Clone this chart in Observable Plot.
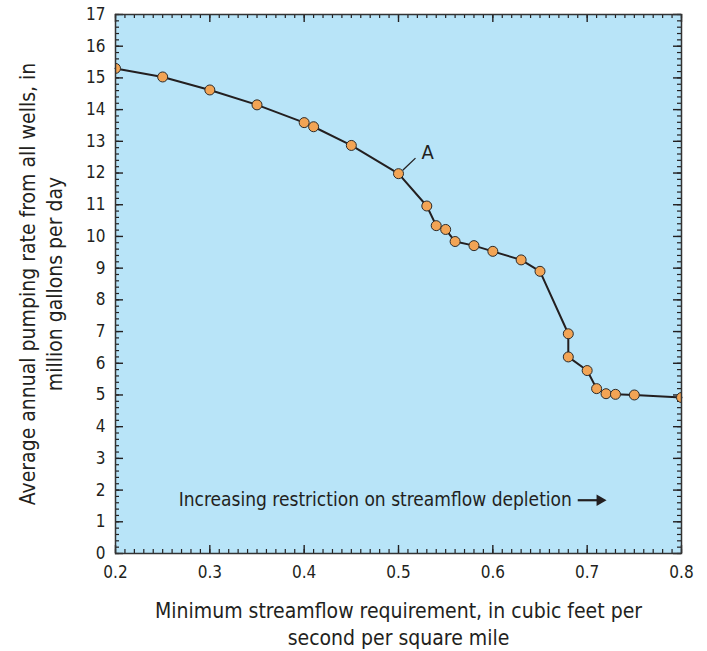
<!DOCTYPE html>
<html>
<head>
<meta charset="utf-8">
<script src="https://cdn.jsdelivr.net/npm/d3@7"></script>
<script src="https://cdn.jsdelivr.net/npm/@observablehq/plot@0.6"></script>
<style>
  html, body { margin: 0; padding: 0; background: #ffffff; }
  #chart svg { display: block; }
</style>
</head>
<body>
<div id="chart"></div>
<script>
// Data
const streamflowReq = [0.2, 0.25, 0.3, 0.35, 0.4, 0.41, 0.45, 0.5, 0.53, 0.54, 0.55, 0.56, 0.58, 0.6, 0.63, 0.65, 0.68, 0.68, 0.7, 0.71, 0.72, 0.73, 0.75, 0.8];
const pumpingRate   = [15.3, 15.03, 14.62, 14.15, 13.59, 13.46, 12.87, 11.98, 10.96, 10.34, 10.22, 9.84, 9.71, 9.53, 9.26, 8.9, 6.93, 6.2, 5.77, 5.2, 5.04, 5.02, 5.0, 4.92];

const xTickValues = [0.2, 0.3, 0.4, 0.5, 0.6, 0.7, 0.8];
const xTickLabels = ["0.2", "0.3", "0.4", "0.5", "0.6", "0.7", "0.8"];
const yTickValues = [0, 1, 2, 3, 4, 5, 6, 7, 8, 9, 10, 11, 12, 13, 14, 15, 16, 17];
const yTickLabels = ["0", "1", "2", "3", "4", "5", "6", "7", "8", "9", "10", "11", "12", "13", "14", "15", "16", "17"];

const xTitle = "Minimum streamflow requirement, in cubic feet per\nsecond per square mile";
const yTitle = "Average annual pumping rate from all wells, in\nmillion gallons per day";
const noteText = "Increasing restriction on streamflow depletion";
const noteAnchor = [{x: 0.267, y: 1.68}];
const noteArrowShaft = [{x1: 0.69, x2: 0.712, y: 1.68}];
const noteArrowHead = [{x: 0.7135, y: 1.68}];
const labelA = [{x: 0.531, y: 12.63, text: "A"}];
const leaderA = [{x1: 0.5045, y1: 12.09, x2: 0.518, y2: 12.47}];

const data = streamflowReq.map((x, i) => ({x, y: pumpingRate[i]}));

// minor tick positions
const xMinor = d3.range(20, 81).map(d => d / 100);
const yMinor = d3.range(0, 86).map(d => d / 5);

const W = 707, H = 651;
const mL = 115, mR = 26, mT = 14, mB = 98;
const fw = W - mL - mR, fh = H - mT - mB;
const font = "'DejaVu Sans Condensed', 'Liberation Sans Narrow', sans-serif";
const ink = "#231f20";

const chart = Plot.plot({
  width: W,
  height: H,
  marginLeft: mL,
  marginRight: mR,
  marginTop: mT,
  marginBottom: mB,
  style: {fontFamily: font, fontSize: "17px", background: "#ffffff", color: ink},
  x: {domain: [0.2, 0.8], axis: null},
  y: {domain: [0, 17], axis: null},
  marks: [
    Plot.frame({fill: "#b8e4f8", stroke: null}),
    // bottom ticks
    Plot.tickX(xMinor, {x: d => d, stroke: ink, strokeWidth: 1.2, insetTop: fh - 4}),
    Plot.tickX(xTickValues, {x: d => d, stroke: ink, strokeWidth: 1.4, insetTop: fh - 8}),
    // top ticks
    Plot.tickX(xMinor, {x: d => d, stroke: ink, strokeWidth: 1.2, insetBottom: fh - 4}),
    Plot.tickX(xTickValues, {x: d => d, stroke: ink, strokeWidth: 1.4, insetBottom: fh - 8}),
    // left ticks
    Plot.tickY(yMinor, {y: d => d, stroke: ink, strokeWidth: 1.2, insetRight: fw - 4}),
    Plot.tickY(yTickValues, {y: d => d, stroke: ink, strokeWidth: 1.4, insetRight: fw - 8}),
    // right ticks
    Plot.tickY(yMinor, {y: d => d, stroke: ink, strokeWidth: 1.2, insetLeft: fw - 4}),
    Plot.tickY(yTickValues, {y: d => d, stroke: ink, strokeWidth: 1.4, insetLeft: fw - 8}),
    // tick labels
    Plot.axisX(xTickValues, {
      tickSize: 0, tickPadding: 12, fontSize: 17,
      tickFormat: (d, i) => xTickLabels[i], label: null, fill: ink
    }),
    Plot.axisY(yTickValues, {
      tickSize: 0, tickPadding: 10, fontSize: 17,
      tickFormat: (d, i) => yTickLabels[i], label: null, fill: ink
    }),
    // data
    Plot.line(data, {x: "x", y: "y", stroke: ink, strokeWidth: 2}),
    Plot.dot(data, {x: "x", y: "y", r: 5, fill: "#f2a455", stroke: "#2b2b2b", strokeWidth: 1, clip: true}),
    // annotation A
    Plot.link(leaderA, {x1: "x1", y1: "y1", x2: "x2", y2: "y2", stroke: ink, strokeWidth: 1.3}),
    Plot.text(labelA, {x: "x", y: "y", text: "text", fontSize: 20, fill: ink, fontFamily: font}),
    // restriction note
    Plot.text(noteAnchor, {x: "x", y: "y", text: () => noteText, textAnchor: "start", fontSize: 19, fill: ink, fontFamily: font}),
    Plot.link(noteArrowShaft, {x1: "x1", x2: "x2", y1: "y", y2: "y", stroke: ink, strokeWidth: 2.2}),
    Plot.dot(noteArrowHead, {x: "x", y: "y", symbol: "triangle2", rotate: 90, r: 5.5, fill: ink, stroke: null}),
    // frame
    Plot.frame({stroke: "#333333", strokeWidth: 1.5}),
    // axis titles
    Plot.text([xTitle], {frameAnchor: "bottom", dy: 69, lineAnchor: "middle", textAnchor: "middle", text: d => d, fontSize: 21, lineHeight: 1.28, fill: ink, fontFamily: font}),
    Plot.text([yTitle], {frameAnchor: "left", dx: -75.5, rotate: -90, lineAnchor: "middle", textAnchor: "middle", text: d => d, fontSize: 21, lineHeight: 1.28, fill: ink, fontFamily: font})
  ]
});

document.getElementById("chart").appendChild(chart);
</script>
</body>
</html>
